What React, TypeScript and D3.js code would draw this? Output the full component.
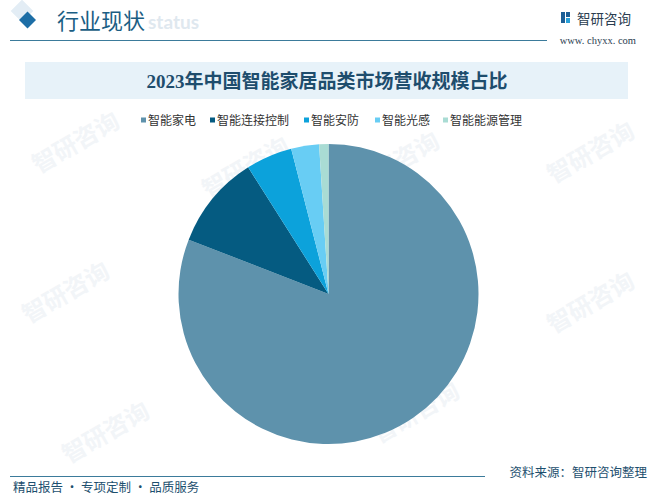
import React, { useRef, useEffect } from "react";
import * as d3 from "d3";

// 品类と比率（%）
const categories = ["智能家电", "智能连接控制", "智能安防", "智能光感", "智能能源管理"];
const shares = [80.9, 10.1, 5.0, 3.0, 1.0];
const colors = ["#5e92ac", "#055b81", "#0ca2db", "#68cdf4", "#a9dcd4"];

const title = "2023年中国智能家居品类市场营收规模占比";
const legendX = [141, 210, 304, 375, 443];

const W = 660;
const H = 497;

const App: React.FC = () => {
  const svgRef = useRef<SVGSVGElement | null>(null);

  useEffect(() => {
    const svg = d3.select(svgRef.current);
    svg.selectAll("*").remove();
    svg.append("rect").attr("width", W).attr("height", H).attr("fill", "#ffffff");

    // 透かし（薄く）
    const wm = svg.append("g").attr("fill", "#f2f5f8");
    const wmPos = [
      [80, 150], [595, 160], [70, 300], [595, 310], [110, 440], [420, 420], [250, 175], [400, 170],
    ];
    wmPos.forEach(([x, y]) => {
      wm.append("text")
        .attr("transform", `translate(${x},${y}) rotate(-30)`)
        .attr("text-anchor", "middle")
        .style("font-family", "Noto Sans CJK SC")
        .style("font-size", "24px")
        .style("font-weight", "bold")
        .text("智研咨询");
    });

    // ヘッダー
    svg.append("rect")
      .attr("x", 14).attr("y", 3).attr("width", 16).attr("height", 16)
      .attr("transform", "rotate(45 22 11)")
      .attr("fill", "#e3edf5");
    svg.append("rect")
      .attr("x", 21.5).attr("y", 14).attr("width", 12).attr("height", 12)
      .attr("transform", "rotate(45 27.5 20)")
      .attr("fill", "#1d6ea6");
    svg.append("text")
      .attr("x", 148).attr("y", 29)
      .attr("fill", "#dfe8ef")
      .style("font-family", "Lato, sans-serif")
      .style("font-size", "19px")
      .style("font-weight", "bold")
      .text("status");
    svg.append("text")
      .attr("x", 57).attr("y", 29)
      .attr("fill", "#1b5e84")
      .style("font-family", "Noto Sans CJK SC")
      .style("font-size", "22px")
      .text("行业现状");
    svg.append("line")
      .attr("x1", 10).attr("x2", 547).attr("y1", 40.5).attr("y2", 40.5)
      .attr("stroke", "#3b7b9b").attr("stroke-width", 1.2);

    // ロゴ
    const logo = svg.append("g").attr("transform", "translate(561,12)");
    logo.append("rect").attr("x", 0).attr("y", 0).attr("width", 4).attr("height", 11).attr("fill", "#1d5f96");
    logo.append("rect").attr("x", 5).attr("y", 0).attr("width", 4).attr("height", 5).attr("fill", "#1d5f96");
    logo.append("rect").attr("x", 5).attr("y", 6).attr("width", 4).attr("height", 5).attr("fill", "#2aa0d8");
    svg.append("text")
      .attr("x", 577).attr("y", 24)
      .attr("fill", "#2b3d50")
      .style("font-family", "Noto Sans CJK SC")
      .style("font-size", "13.5px")
      .text("智研咨询");
    svg.append("text")
      .attr("x", 636).attr("y", 44)
      .attr("text-anchor", "end")
      .attr("fill", "#2b3d50")
      .style("font-family", "Liberation Serif, serif")
      .style("font-size", "10.5px")
      .text("www. chyxx. com");

    // タイトルバー
    svg.append("rect")
      .attr("x", 25).attr("y", 62).attr("width", 603).attr("height", 37)
      .attr("fill", "#e7f2f9");
    svg.append("text")
      .attr("x", 327).attr("y", 88)
      .attr("text-anchor", "middle")
      .attr("fill", "#1e4d6d")
      .style("font-family", "Liberation Serif, Noto Sans CJK SC")
      .style("font-size", "19px")
      .style("font-weight", "bold")
      .text(title);

    // 凡例
    const legend = svg.append("g");
    categories.forEach((c, i) => {
      legend.append("rect")
        .attr("x", legendX[i]).attr("y", 117.5).attr("width", 5).attr("height", 5)
        .attr("fill", colors[i]);
      legend.append("text")
        .attr("x", legendX[i] + 7).attr("y", 124.5)
        .attr("fill", "#333333")
        .style("font-family", "Noto Sans CJK SC")
        .style("font-size", "12px")
        .text(c);
    });

    // 円グラフ（12時から時計回り）
    const cx = 328.5;
    const cy = 294;
    const r = 150;
    const pie = d3.pie<number>().sort(null);
    const arcGen = d3.arc<d3.PieArcDatum<number>>().innerRadius(0).outerRadius(r);
    svg.append("g")
      .attr("transform", `translate(${cx},${cy})`)
      .selectAll("path")
      .data(pie(shares))
      .enter()
      .append("path")
      .attr("d", arcGen)
      .attr("fill", (_, i) => colors[i]);

    // フッター
    svg.append("line")
      .attr("x1", 10).attr("x2", 485).attr("y1", 476.5).attr("y2", 476.5)
      .attr("stroke", "#3b7b9b").attr("stroke-width", 1.2);
    svg.append("text")
      .attr("x", 647).attr("y", 477)
      .attr("text-anchor", "end")
      .attr("fill", "#1d4f6e")
      .style("font-family", "Noto Sans CJK SC")
      .style("font-size", "12.5px")
      .text("资料来源：智研咨询整理");
    svg.append("text")
      .attr("x", 13).attr("y", 492)
      .attr("fill", "#1d4f6e")
      .style("font-family", "Noto Sans CJK SC")
      .style("font-size", "12.5px")
      .text("精品报告 · 专项定制 · 品质服务");
  }, []);

  return (
    <svg
      ref={svgRef}
      width={W}
      height={H}
      style={{ position: "absolute", left: 0, top: 0, display: "block" }}
    ></svg>
  );
};

export default App;
